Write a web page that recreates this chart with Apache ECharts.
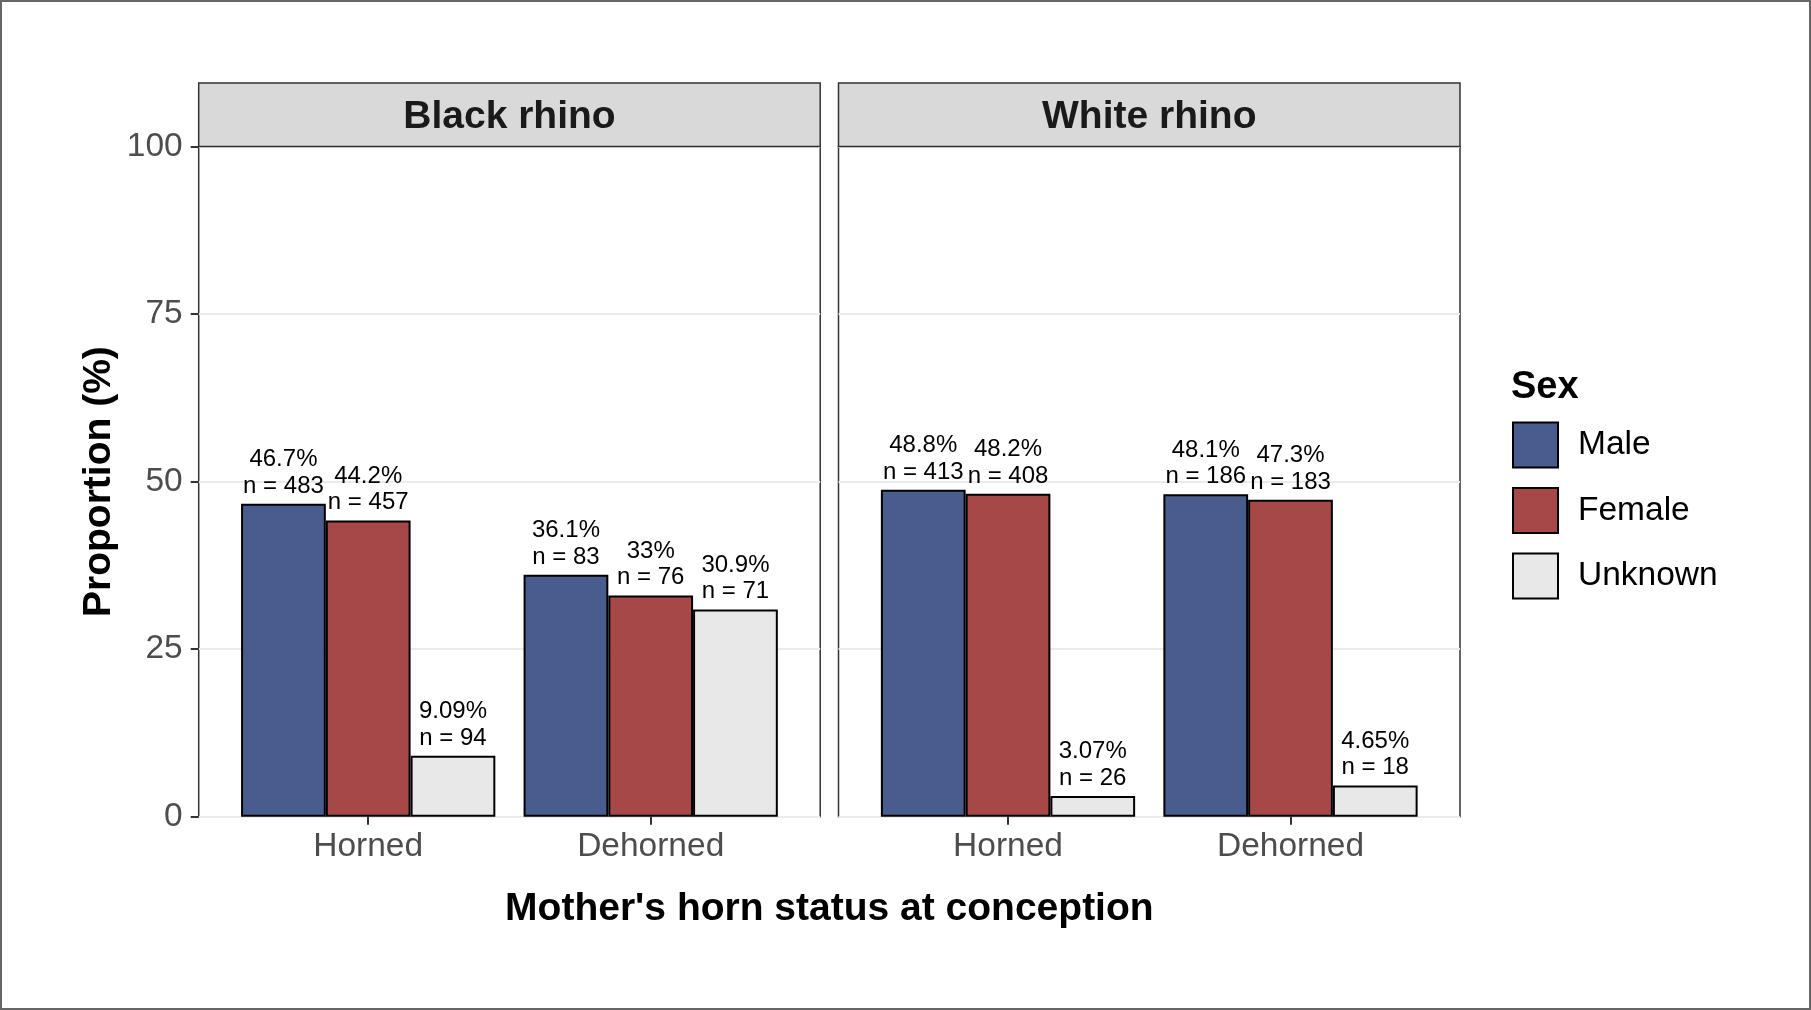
<!DOCTYPE html>
<html>
<head>
<meta charset="utf-8">
<script src="https://cdn.jsdelivr.net/npm/echarts@6/dist/echarts.min.js"></script>
<style>
  html, body { margin: 0; padding: 0; background: #ffffff; }
  #chart { width: 1811px; height: 1010px; }
</style>
</head>
<body>
<div id="chart"></div>
<script>
// ---- data ----
const categories = ['Horned', 'Dehorned'];
const sexes = ['Male', 'Female', 'Unknown'];
const panels = ['Black rhino', 'White rhino'];

// Black rhino: percentages and counts, [Horned, Dehorned]
const blackMalePct = [46.7, 36.1];
const blackMaleN = [483, 83];
const blackFemalePct = [44.2, 33];
const blackFemaleN = [457, 76];
const blackUnknownPct = [9.09, 30.9];
const blackUnknownN = [94, 71];

// White rhino
const whiteMalePct = [48.8, 48.1];
const whiteMaleN = [413, 186];
const whiteFemalePct = [48.2, 47.3];
const whiteFemaleN = [408, 183];
const whiteUnknownPct = [3.07, 4.65];
const whiteUnknownN = [26, 18];

const yTicks = [0, 25, 50, 75, 100];

// ---- style ----
const FONT = '"Liberation Sans", Arial, Helvetica, sans-serif';
const sexColors = ['#485D8E', '#A64748', '#E8E8E8'];
const panelLeft = [198.7, 838.5];
const panelWidth = 621.5;
const panelTop = 146.5;
const panelHeight = 670.2;
const stripTop = 83;

const pctData = [
  [blackMalePct, blackFemalePct, blackUnknownPct],
  [whiteMalePct, whiteFemalePct, whiteUnknownPct]
];
const nData = [
  [blackMaleN, blackFemaleN, blackUnknownN],
  [whiteMaleN, whiteFemaleN, whiteUnknownN]
];

const grids = [], xAxes = [], yAxes = [], series = [], graphics = [];
const barInset = 0.1 / 2.2 * panelWidth;
const barGridWidth = 2 / 2.2 * panelWidth;

for (let p = 0; p < 2; p++) {
  grids.push({
    left: panelLeft[p], top: panelTop, width: panelWidth, height: panelHeight,
    show: true, borderColor: '#333333', borderWidth: 1.5, backgroundColor: 'transparent'
  });
  grids.push({
    left: panelLeft[p] + barInset, top: panelTop, width: barGridWidth, height: panelHeight
  });

  xAxes.push({ gridIndex: 2 * p, type: 'value', min: 0, max: 1, show: false });
  xAxes.push({
    gridIndex: 2 * p + 1, type: 'category', data: categories,
    axisLine: { show: false },
    axisTick: { show: true, alignWithLabel: true, length: 8, lineStyle: { color: '#333333', width: 2 } },
    axisLabel: { fontSize: 33.5, color: '#4D4D4D', margin: 13, fontFamily: FONT },
    splitLine: { show: false }
  });

  yAxes.push({
    gridIndex: 2 * p, type: 'value', min: yTicks[0], max: yTicks[yTicks.length - 1], interval: 25,
    axisLine: { show: false },
    axisTick: { show: p === 0, length: 8, lineStyle: { color: '#333333', width: 2 } },
    axisLabel: { show: p === 0, fontSize: 33.5, color: '#4D4D4D', margin: 16, fontFamily: FONT },
    splitLine: { show: true, lineStyle: { color: '#EBEBEB', width: 2 } }
  });
  yAxes.push({
    gridIndex: 2 * p + 1, type: 'value', min: 0, max: 100, show: false,
    splitLine: { show: false }
  });

  for (let s = 0; s < 3; s++) {
    const nArr = nData[p][s];
    const pArr = pctData[p][s];
    series.push({
      type: 'bar', name: sexes[s],
      xAxisIndex: 2 * p + 1, yAxisIndex: 2 * p + 1,
      barWidth: '30%', barGap: '0%',
      data: pArr,
      itemStyle: { color: sexColors[s], borderColor: '#000000', borderWidth: 2 },
      label: {
        show: true, position: 'top', distance: 4.5,
        fontSize: 24, lineHeight: 26.5, color: '#000000', fontFamily: FONT,
        formatter: (params) => pArr[params.dataIndex] + '%\nn = ' + nArr[params.dataIndex]
      },
      emphasis: { disabled: true },
      z: 3
    });
  }

  graphics.push({
    type: 'rect', z: 10,
    shape: { x: panelLeft[p], y: stripTop, width: panelWidth, height: panelTop - stripTop },
    style: { fill: '#D9D9D9', stroke: '#333333', lineWidth: 1.5 }
  });
  graphics.push({
    type: 'text', z: 11,
    x: panelLeft[p] + panelWidth / 2, y: (stripTop + panelTop) / 2 + 2.5,
    style: {
      text: panels[p], fill: '#1A1A1A', font: 'bold 39px ' + FONT,
      textAlign: 'center', textVerticalAlign: 'middle'
    }
  });
}

graphics.push({
  type: 'rect', z: 20,
  shape: { x: 1, y: 1, width: 1809, height: 1008 },
  style: { fill: 'none', stroke: '#666666', lineWidth: 2 }
});
graphics.push({
  type: 'text', z: 11, x: 99, y: panelTop + panelHeight / 2, rotation: Math.PI / 2,
  style: {
    text: 'Proportion (%)', fill: '#000000', font: 'bold 39px ' + FONT,
    textAlign: 'center', textVerticalAlign: 'middle'
  }
});
graphics.push({
  type: 'text', z: 11, x: (panelLeft[0] + panelLeft[1] + panelWidth) / 2, y: 909,
  style: {
    text: "Mother's horn status at conception", fill: '#000000', font: 'bold 39px ' + FONT,
    textAlign: 'center', textVerticalAlign: 'middle'
  }
});
graphics.push({
  type: 'text', z: 11, x: 1511, y: 388,
  style: {
    text: 'Sex', fill: '#000000', font: 'bold 38px ' + FONT,
    textAlign: 'left', textVerticalAlign: 'middle'
  }
});

const chart = echarts.init(document.getElementById('chart'), null, { renderer: 'canvas' });
chart.setOption({
  animation: false,
  backgroundColor: '#ffffff',
  textStyle: { fontFamily: FONT },
  grid: grids,
  xAxis: xAxes,
  yAxis: yAxes,
  series: series,
  legend: {
    data: sexes, orient: 'vertical', left: 1512, top: 421.6, padding: 0,
    itemWidth: 45, itemHeight: 45, itemGap: 18.5, icon: 'rect',
    itemStyle: { borderColor: '#000000', borderWidth: 2 },
    textStyle: { fontSize: 33.5, color: '#000000', fontFamily: FONT, padding: [0, 0, 0, 15] },
    selectedMode: false
  },
  graphic: graphics
});
</script>
</body>
</html>
